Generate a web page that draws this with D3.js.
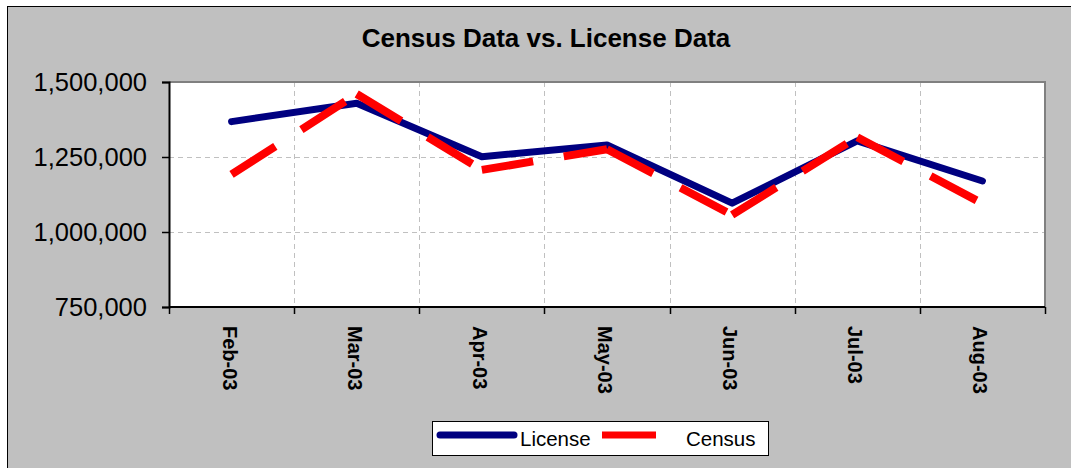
<!DOCTYPE html>
<html>
<head>
<meta charset="utf-8">
<script src="https://cdnjs.cloudflare.com/ajax/libs/d3/7.8.5/d3.min.js"></script>
<style>
body{margin:0;background:#fff;}
svg{display:block;font-family:Arial,"Liberation Sans",sans-serif;}
</style>
</head>
<body>
<svg id="chart" width="1071" height="468"></svg>
<script>
var months = ['Feb-03','Mar-03','Apr-03','May-03','Jun-03','Jul-03','Aug-03'];
var license = [1368000,1429000,1251000,1290000,1096000,1304000,1170000];
var census = [1192000,1460000,1207000,1276000,1057000,1316000,1095000];
var yTicks = [750000,1000000,1250000,1500000];
var seriesNames = ['License','Census'];

var svg = d3.select('#chart');
var plot = {left:169, top:82, right:1045, bottom:307};

//grey background with the frame
svg.append('rect')
	.attr('x',7.5).attr('y',6.5)
	.attr('width',1080).attr('height',480)
	.attr('fill','#c0c0c0')
	.attr('stroke','#000');

svg.append('text')
	.attr('x',546).attr('y',47)
	.attr('text-anchor','middle')
	.style('font-size','26px')
	.style('font-weight','bold')
	.text('Census Data vs. License Data');

var x = d3.scaleBand().domain(months).range([plot.left, plot.right]);
var y = d3.scaleLinear().domain([750000,1500000]).range([plot.bottom, plot.top]);
var cx = function(i){ return x(months[i]) + x.bandwidth()/2; };

svg.append('rect')
	.attr('x',plot.left).attr('y',plot.top)
	.attr('width',plot.right-plot.left).attr('height',plot.bottom-plot.top)
	.attr('fill','#fff');

//dashed grid
var grid = svg.append('g').attr('stroke','#c0c0c0').attr('stroke-width',1).attr('stroke-dasharray','5,4');
grid.selectAll('line.v').data(months.slice(1)).enter().append('line')
	.attr('class','v')
	.attr('x1',function(d){return Math.round(x(d))+0.5;})
	.attr('x2',function(d){return Math.round(x(d))+0.5;})
	.attr('y1',plot.top).attr('y2',plot.bottom);
grid.selectAll('line.h').data(yTicks.slice(1,3)).enter().append('line')
	.attr('class','h')
	.attr('x1',plot.left).attr('x2',plot.right)
	.attr('y1',function(d){return Math.round(y(d))+0.5;})
	.attr('y2',function(d){return Math.round(y(d))+0.5;});

//top and right edges of the plot
svg.append('path')
	.attr('d','M'+plot.left+','+plot.top+'H'+plot.right+'V'+plot.bottom)
	.attr('fill','none').attr('stroke','#808080').attr('stroke-width',2);

//y axis
var yAxis = svg.append('g')
	.attr('transform','translate('+plot.left+',0)')
	.call(d3.axisLeft(y).tickValues(yTicks).tickSize(7).tickPadding(15).tickFormat(d3.format(',')));
yAxis.select('.domain').attr('stroke','#000').attr('stroke-width',2);
yAxis.selectAll('.tick line').attr('stroke','#000').attr('stroke-width',1.5);
yAxis.selectAll('text').style('font-size','25.5px').style('font-family','Arial,"Liberation Sans",sans-serif').attr('fill','#000');

//x axis, ticks between the categories
var xTicks = months.map(function(m){return x(m);}).concat([plot.right]);
svg.append('line')
	.attr('x1',plot.left).attr('x2',plot.right)
	.attr('y1',plot.bottom).attr('y2',plot.bottom)
	.attr('stroke','#000').attr('stroke-width',2);
svg.selectAll('line.xt').data(xTicks).enter().append('line')
	.attr('class','xt')
	.attr('x1',function(d){return Math.round(d)+0.5;})
	.attr('x2',function(d){return Math.round(d)+0.5;})
	.attr('y1',plot.bottom).attr('y2',plot.bottom+7)
	.attr('stroke','#000').attr('stroke-width',1.5);
svg.selectAll('text.xl').data(months).enter().append('text')
	.attr('class','xl')
	.attr('transform',function(d,i){return 'translate('+(cx(i)-2)+',326) rotate(90)';})
	.attr('dy','0.35em')
	.style('font-size','20px')
	.style('font-weight','bold')
	.text(function(d){return d;});

//license line
var line = d3.line().x(function(d,i){return cx(i);}).y(function(d){return y(d);});
svg.append('path')
	.attr('d',line(license))
	.attr('fill','none')
	.attr('stroke','#000080')
	.attr('stroke-width',7)
	.attr('stroke-linecap','round')
	.attr('stroke-linejoin','round');

//census line, dash pattern restarts at every point
svg.selectAll('line.census').data(d3.pairs(census.map(function(v,i){return [cx(i), y(v)];}))).enter().append('line')
	.attr('class','census')
	.attr('x1',function(d){return d[0][0];}).attr('y1',function(d){return d[0][1];})
	.attr('x2',function(d){return d[1][0];}).attr('y2',function(d){return d[1][1];})
	.attr('stroke','#ff0000')
	.attr('stroke-width',8)
	.attr('stroke-dasharray','52,31');

//legend
var legend = svg.append('g');
legend.append('rect')
	.attr('x',432.5).attr('y',421.5)
	.attr('width',336).attr('height',34)
	.attr('fill','#fff').attr('stroke','#000');
legend.append('line')
	.attr('x1',440).attr('x2',514).attr('y1',435).attr('y2',435)
	.attr('stroke','#000080').attr('stroke-width',7).attr('stroke-linecap','round');
legend.append('line')
	.attr('x1',602).attr('x2',656).attr('y1',435).attr('y2',435)
	.attr('stroke','#ff0000').attr('stroke-width',7);
legend.append('text').attr('x',520).attr('y',446).style('font-size','20.5px').text(seriesNames[0]);
legend.append('text').attr('x',686).attr('y',446).style('font-size','20.5px').text(seriesNames[1]);
</script>
</body>
</html>
